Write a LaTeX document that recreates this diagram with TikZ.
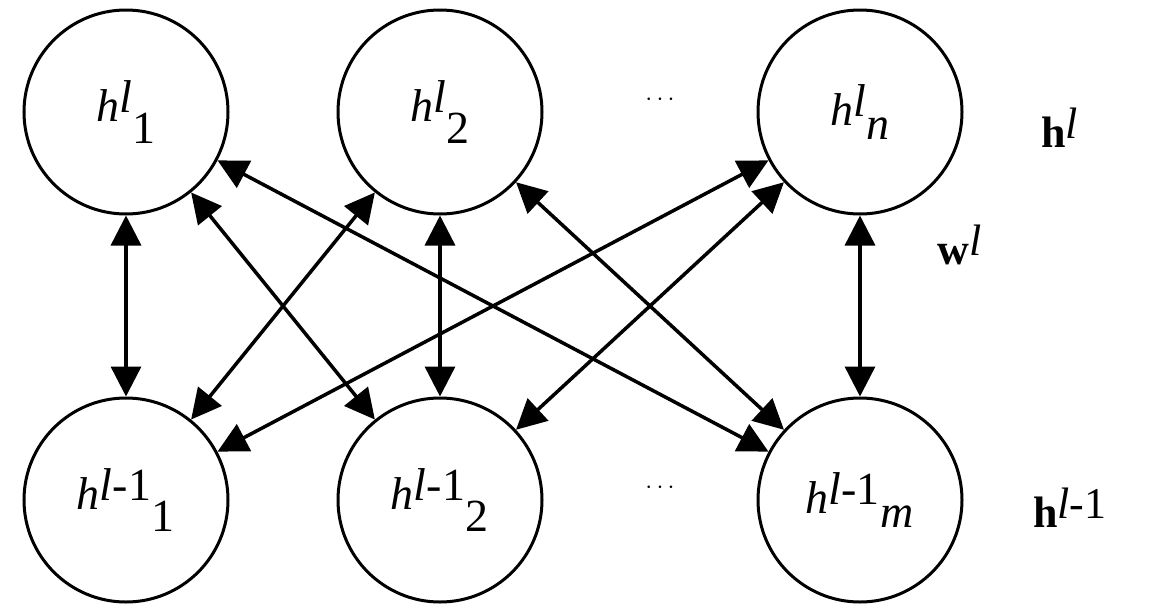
\documentclass[tikz,border=0pt]{standalone}
\usepackage{fontspec}
\setmainfont{Liberation Serif}
\usetikzlibrary{arrows.meta}
\begin{document}
\begin{tikzpicture}[x=1pt,y=-1pt,
  neuron/.style={circle,draw,line width=3pt,minimum size=204pt,inner sep=0pt,font=\fontsize{46}{50}\selectfont},
  conn/.style={line width=3.5pt,{Triangle[length=30pt,width=30pt]}-{Triangle[length=30pt,width=30pt]}},
  lab/.style={font=\fontsize{44}{50}\selectfont}]
\useasboundingbox (0,0) rectangle (1149,616);
\node[neuron] (t1) at (126,112) {\textit{h}$^{\textit{l}}{}_{\mbox{1}}$};
\node[neuron] (t2) at (440,112) {\textit{h}$^{\textit{l}}{}_{\mbox{2}}$};
\node[neuron] (tn) at (860,112) {\textit{h}$^{\textit{l}}{}_{\textit{n}}$};
\node[neuron] (b1) at (126,500) {\textit{h}$^{\textit{l}\mbox{-1}}{}_{\mbox{1}}$};
\node[neuron] (b2) at (440,500) {\textit{h}$^{\textit{l}\mbox{-1}}{}_{\mbox{2}}$};
\node[neuron] (bm) at (860,500) {\textit{h}$^{\textit{l}\mbox{-1}}{}_{\textit{m}}$};
\node[lab] (d1) at (660,100) {$\cdots$};
\node[lab] (d2) at (660,488) {$\cdots$};
\node[lab] (hl) at (1060,128) {\textbf{h}$^{\textit{l}}$};
\node[lab] (wl) at (960,245) {\textbf{w}$^{\textit{l}}$};
\node[lab] (hl1) at (1070,508) {\textbf{h}$^{\textit{l}\mbox{-1}}$};
\draw[conn] (t1) -- (b1);
\draw[conn] (t2) -- (b2);
\draw[conn] (tn) -- (bm);
\draw[conn] (t1) -- (b2);
\draw[conn] (t1) -- (bm);
\draw[conn] (t2) -- (b1);
\draw[conn] (t2) -- (bm);
\draw[conn] (tn) -- (b1);
\draw[conn] (tn) -- (b2);
\end{tikzpicture}
\end{document}
